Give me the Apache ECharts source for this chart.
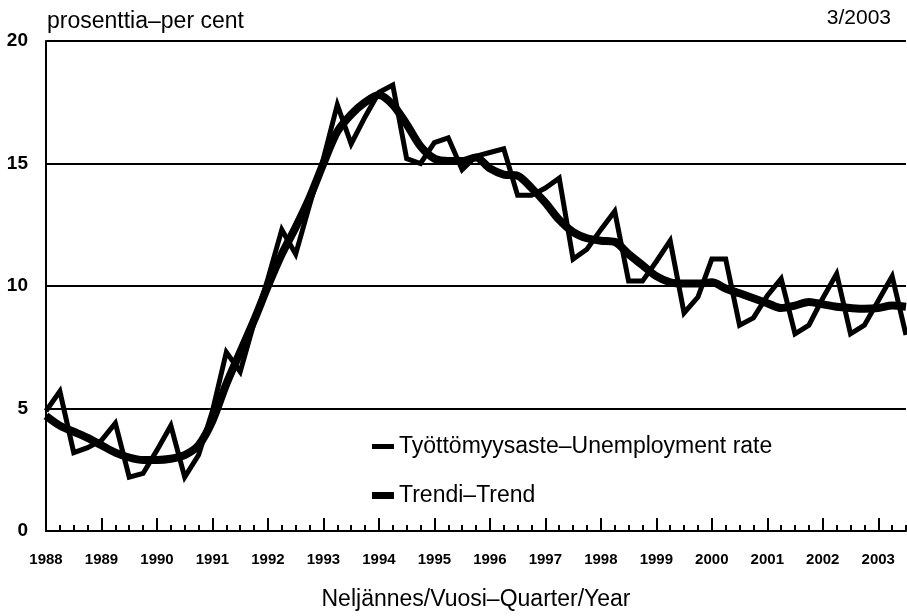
<!DOCTYPE html>
<html>
<head>
<meta charset="utf-8">
<script src="https://cdn.jsdelivr.net/npm/echarts@6/dist/echarts.min.js"></script>
<style>
  html, body { margin: 0; padding: 0; background: #fff; }
  #chart { width: 907px; height: 616px; }
</style>
</head>
<body>
<div id="chart"></div>
<script>
// vuodet 1988-2003, neljännesvuosittain (viimeinen 3/2003)
const years = [1988, 1989, 1990, 1991, 1992, 1993, 1994, 1995, 1996, 1997, 1998, 1999, 2000, 2001, 2002, 2003]
const lastQuarter = 3

// Työttömyysaste - Unemployment rate
const rate = [
    4.9, 5.7, 3.2, 3.4, 3.7, 4.4, 2.2, 2.35, 3.3, 4.3, 2.2, 3.1,
    4.9, 7.3, 6.5, 8.5, 10.3, 12.3, 11.3, 13.3, 15.2, 17.4, 15.8, 16.9,
    17.9, 18.2, 15.2, 15.0, 15.85, 16.05, 14.75, 15.3, 15.45, 15.6, 13.7, 13.7,
    14.0, 14.4, 11.1, 11.5, 12.3, 13.05, 10.2, 10.2, 11.0, 11.85, 8.9, 9.55,
    11.1, 11.1, 8.4, 8.7, 9.6, 10.3, 8.05, 8.4, 9.5, 10.5, 8.05, 8.4,
    9.4, 10.4, 8.0,
]

// Trendi - Trend
const trend = [
    4.7, 4.3, 4.05, 3.8, 3.5, 3.2, 3.0, 2.9, 2.9, 2.95, 3.1, 3.5,
    4.5, 6.0, 7.3, 8.6, 10.0, 11.3, 12.4, 13.6, 15.0, 16.3, 17.0, 17.5,
    17.8, 17.4, 16.6, 15.7, 15.2, 15.1, 15.1, 15.25, 14.8, 14.55, 14.5, 14.0,
    13.4, 12.7, 12.2, 11.95, 11.85, 11.8, 11.3, 10.85, 10.4, 10.15, 10.1, 10.1,
    10.15, 9.9, 9.7, 9.5, 9.3, 9.1, 9.2, 9.35, 9.25, 9.15, 9.1, 9.07,
    9.1, 9.2, 9.15,
]

const yTicks = [0, 5, 10, 15, 20]

const quarters = []
years.forEach((y, i) => {
    const n = i === years.length - 1 ? lastQuarter : 4
    for (let q = 1; q <= n; q++) quarters.push(y + '/' + q)
})

const font = '"Liberation Sans", Arial, sans-serif'

const chart = echarts.init(document.getElementById('chart'))

const options = {
    animation: false,
    backgroundColor: '#fff',
    title: [
        {
            text: 'prosenttia–per cent',
            left: 47,
            top: 10,
            padding: 0,
            textStyle: { fontFamily: font, fontSize: 23, fontWeight: 'normal', color: '#000' },
        },
        {
            text: '3/2003',
            right: 16,
            top: 8,
            padding: 0,
            textStyle: { fontFamily: font, fontSize: 21, fontWeight: 'normal', color: '#000' },
        },
    ],
    legend: [
        {
            data: [{ name: 'Työttömyysaste–Unemployment rate', icon: 'rect' }],
            left: 372,
            top: 435,
            padding: 0,
            itemWidth: 22,
            itemHeight: 5,
            itemGap: 0,
            textStyle: { fontFamily: font, fontSize: 23, color: '#000' },
        },
        {
            data: [{ name: 'Trendi–Trend', icon: 'rect' }],
            left: 372,
            top: 484,
            padding: 0,
            itemWidth: 22,
            itemHeight: 7,
            itemGap: 0,
            textStyle: { fontFamily: font, fontSize: 23, color: '#000' },
        },
    ],
    grid: {
        left: 46,
        right: 1,
        top: 41,
        bottom: 83,
    },
    xAxis: [
        {
            type: 'category',
            data: quarters,
            boundaryGap: false,
            name: 'Neljännes/Vuosi–Quarter/Year',
            nameLocation: 'middle',
            nameGap: 57,
            nameTextStyle: { fontFamily: font, fontSize: 23, color: '#000' },
            axisLine: { lineStyle: { color: '#000', width: 2 } },
            axisTick: { inside: true, interval: 0, length: 6, lineStyle: { color: '#000', width: 2 } },
            axisLabel: {
                interval: 3,
                margin: 21,
                fontFamily: font,
                fontSize: 15,
                fontWeight: 'bold',
                color: '#000',
                formatter: (v) => v.split('/')[0],
            },
            splitLine: { show: false },
        },
        {
            type: 'category',
            data: quarters,
            boundaryGap: false,
            position: 'bottom',
            axisLine: { show: false },
            axisTick: { inside: true, interval: 3, length: 13, lineStyle: { color: '#000', width: 2 } },
            axisLabel: { show: false },
            splitLine: { show: false },
        },
    ],
    yAxis: {
        type: 'value',
        min: yTicks[0],
        max: yTicks[yTicks.length - 1],
        interval: 5,
        axisLine: { show: true, lineStyle: { color: '#000', width: 2 } },
        axisTick: { show: false },
        axisLabel: {
            margin: 18,
            fontFamily: font,
            fontSize: 19,
            fontWeight: 'bold',
            color: '#000',
        },
        splitLine: { lineStyle: { color: '#000', width: 2 } },
    },
    series: [
        {
            name: 'Trendi–Trend',
            type: 'line',
            data: trend,
            smooth: 0.3,
            showSymbol: false,
            color: '#000',
            lineStyle: { color: '#000', width: 8 },
            z: 2,
        },
        {
            name: 'Työttömyysaste–Unemployment rate',
            type: 'line',
            data: rate,
            showSymbol: false,
            color: '#000',
            lineStyle: { color: '#000', width: 5, join: 'miter', miterLimit: 8 },
            z: 3,
        },
    ],
}

chart.setOption(options)
</script>
</body>
</html>
